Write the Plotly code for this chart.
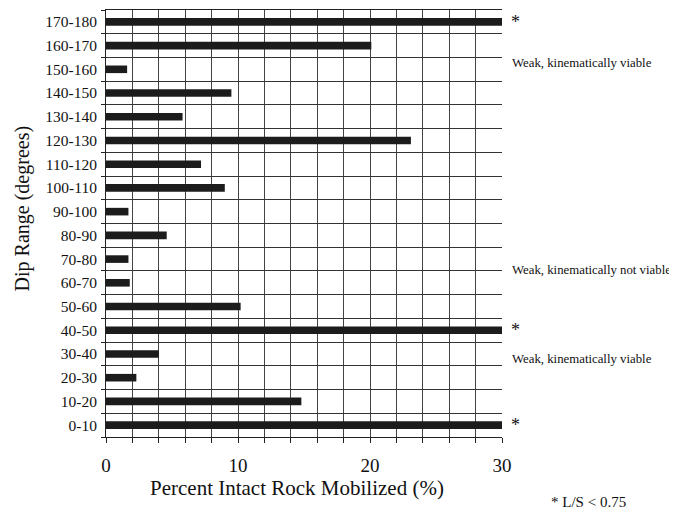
import plotly.graph_objects as go

categories = ["0-10", "10-20", "20-30", "30-40", "40-50", "50-60", "60-70", "70-80",
              "80-90", "90-100", "100-110", "110-120", "120-130", "130-140",
              "140-150", "150-160", "160-170", "170-180"]
values = [30, 14.8, 2.3, 4.0, 30, 10.2, 1.8, 1.7, 4.6, 1.7, 9.0, 7.2, 23.1, 5.8, 9.5, 1.6, 20.1, 30]
x_ticks = [0, 10, 20, 30]

star_cats = ["170-180", "40-50", "0-10"]
notes = [(15.27, "Weak, kinematically viable"),
         (6.56, "Weak, kinematically not viable"),
         (2.77, "Weak, kinematically viable")]

font = "Liberation Serif, Times New Roman, serif"

fig = go.Figure()
fig.add_trace(go.Bar(
    y=categories, x=values, orientation="h",
    marker=dict(color="#1c1c1c", line=dict(width=0)),
    width=0.32, hoverinfo="x+y"
))

for c in star_cats:
    fig.add_annotation(x=1, xref="paper", xshift=7, y=c, yref="y", text="*",
                       showarrow=False, xanchor="left", yanchor="middle",
                       font=dict(family=font, size=18, color="#111"))
for yv, t in notes:
    fig.add_annotation(x=1, xref="paper", xshift=8, y=yv, yref="y", text=t,
                       showarrow=False, xanchor="left", yanchor="middle",
                       font=dict(family=font, size=12.8, color="#111"))
fig.add_annotation(x=1.1176, xref="paper", y=-0.152, yref="paper", text="* L/S < 0.75",
                   showarrow=False, xanchor="left", yanchor="middle",
                   font=dict(family=font, size=15, color="#111"))
fig.add_annotation(x=0.483, xref="paper", y=-0.119, yref="paper",
                   text="Percent Intact Rock Mobilized (%)",
                   showarrow=False, xanchor="center", yanchor="middle",
                   font=dict(family=font, size=21, color="#111"))
fig.add_annotation(x=-0.21, xref="paper", y=0.535, yref="paper",
                   text="Dip Range (degrees)", textangle=-90,
                   showarrow=False, xanchor="center", yanchor="middle",
                   font=dict(family=font, size=20, color="#111"))

# page body has an 8px default margin, so the figure is drawn 8px smaller
fig.update_layout(
    width=669, height=504,
    margin=dict(l=98, r=175, t=2, b=75),
    paper_bgcolor="white", plot_bgcolor="white",
    showlegend=False,
    font=dict(family=font, color="#111"),
    xaxis=dict(
        range=[0, 30], tickvals=x_ticks, ticktext=[str(v) for v in x_ticks],
        ticks="outside", ticklen=5, tickcolor="#222", ticklabelstandoff=6,
        showgrid=True, gridcolor="#444", gridwidth=1,
        minor=dict(dtick=2, showgrid=True, gridcolor="#444", gridwidth=1,
                   ticks="outside", ticklen=5, tickcolor="#222"),
        showline=True, linecolor="#222", linewidth=1, mirror=True,
        tickfont=dict(family=font, size=19), zeroline=False, automargin=False,
    ),
    yaxis=dict(
        type="category", categoryorder="array", categoryarray=categories,
        range=[-0.5, 17.5], tickson="boundaries",
        ticks="outside", ticklen=4, tickcolor="#222", ticklabelstandoff=5,
        showgrid=True, gridcolor="#333", gridwidth=1,
        showline=True, linecolor="#222", linewidth=1,
        tickfont=dict(family=font, size=15.5), automargin=False,
    ),
)

fig.write_html("out.html")
